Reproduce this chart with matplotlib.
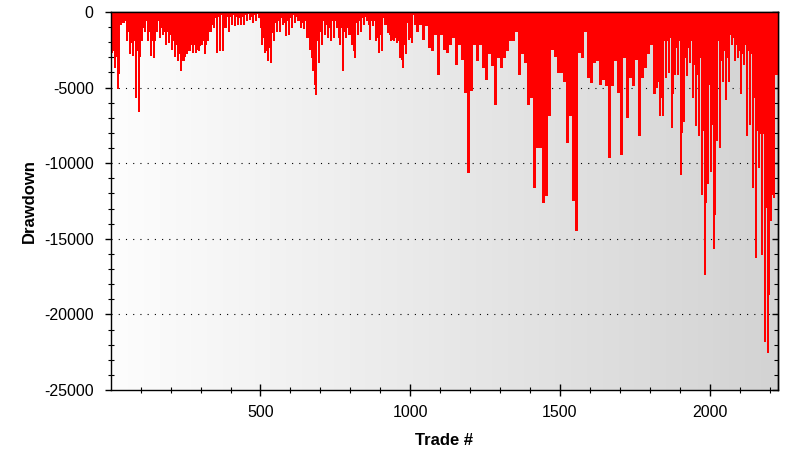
import numpy as np
import matplotlib
matplotlib.use("Agg")
import matplotlib.pyplot as plt
from matplotlib.colors import LinearSegmentedColormap
from matplotlib.ticker import MultipleLocator

plt.rcParams['font.family'] = ['Liberation Sans', 'DejaVu Sans']

# Drawdown per block of 10 trades (block starting at trade 0, 10, 20, ...)
# dd_base: typical (shallow) drawdown level in the block
# dd_spike: deepest drawdown reached in the block
bin_width = 10
dd_base = [
    -2600, -3000, -4100, -700, -600, -1300, -2050, -1950, -2600, -3000,
    -1050, -600, -1300, -1950, -1950, -600, -1050, -1300, -1300, -1500,
    -1950, -2150, -2800, -3250, -2950, -2600, -2150, -2150, -2500, -2250,
    -1950, -2150, -1300, -850, -400, -300, -200, -1050, -300, -300,
    -200, -200, -300, -400, -300, -200, -150, -300, -200, -100,
    -1050, -1700, -2600, -2400, -1400, -750, -600, -400, -750, -600,
    -400, -200, -300, -600, -750, -600, -1700, -3050, -4800, -1950,
    -1300, -600, -850, -1050, -600, -600, -1700, -1050, -1300, -1050,
    -1500, -2600, -750, -600, -400, -300, -850, -600, -600, -1700,
    -1500, -400, -850, -1500, -1850, -1700, -1950, -3150, -2150, -750,
    -1700, -200, -200, -400, -850, -400, -600, -1050, -850, -1050,
    -850, -1950, -1950, -600, -850, -2600, -1050, -2700, -3500, -7550,
    -4350, -1500, -850, -1050, -3150, -4150, -1950, -1300, -5350, -600,
    -1300, -2600, -1850, -1700, -1050, -400, -1700, -600, -1050, -3050,
    -3500, -7000, -6800, -6550, -11000, -10750, -5050, -1850, -1300, -400,
    -1950, -3250, -6000, -5050, -7350, -9900, -1500, -600, -850, -1050,
    -1950, -850, -1700, -600, -2600, -2400, -6350, -1950, -1400, -2400,
    -2150, -1050, -2150, -3900, -1500, -2500, -3050, -2150, -2800, -1600,
    -1050, -3050, -4600, -5700, -1950, -1950, -1700, -5450, -2400, -1950,
    -8000, -3050, -2400, -1950, -3500, -4150, -3050, -7900, -12650, -4800,
    -7450, -13400, -1950, -3250, -2600, -3050, -1500, -1700, -2150, -2600,
    -2800, -2150, -2600, -2800, -5700, -7900, -8100, -8100, -12950, -18700,
    -12100, -4150, -3500,
]
dd_spike = [
    -2700, -3700, -5100, -850, -730, -1950, -2800, -2900, -5700, -6600,
    -1950, -1300, -1950, -2900, -3050, -1300, -1700, -1500, -2150, -2050,
    -2500, -2950, -3250, -3900, -3250, -2800, -2600, -2700, -2700, -2600,
    -2150, -2800, -1950, -1300, -1050, -2700, -2600, -2600, -1050, -1300,
    -850, -950, -850, -850, -850, -600, -500, -750, -600, -400,
    -2150, -2700, -3250, -3400, -1950, -1300, -1300, -850, -1600, -1500,
    -1050, -750, -600, -1050, -1150, -1700, -2500, -3900, -5500, -3350,
    -2150, -1500, -1700, -1950, -1700, -1050, -2150, -3900, -1700, -1500,
    -2150, -3050, -1500, -1300, -850, -600, -1850, -950, -1950, -2700,
    -2600, -850, -1400, -1950, -1950, -2050, -3050, -3700, -2800, -1850,
    -2050, -850, -1300, -850, -1850, -950, -2400, -2600, -1500, -4150,
    -1500, -2500, -2700, -2150, -1700, -3500, -2150, -3150, -5350, -10650,
    -5250, -2150, -3250, -2150, -3700, -4500, -2800, -3600, -6150, -3050,
    -3700, -3050, -2600, -1950, -1950, -1300, -4150, -2800, -3400, -6150,
    -5700, -11650, -9000, -9000, -12650, -12200, -6900, -2500, -2950, -4050,
    -4050, -4600, -8650, -6900, -12500, -14500, -2700, -3050, -1300, -4350,
    -4700, -3400, -3250, -4800, -4500, -4900, -9650, -4900, -3250, -5350,
    -9450, -3050, -7000, -4350, -4900, -3150, -8200, -4350, -3700, -2800,
    -2150, -5450, -5050, -6900, -6900, -4350, -4050, -7650, -4150, -4150,
    -10750, -7250, -4250, -3350, -5700, -7550, -8200, -12100, -17400, -11400,
    -10550, -15700, -8550, -9000, -4600, -5800, -4600, -2150, -3250, -3050,
    -5450, -3500, -8200, -7450, -11650, -16250, -10300, -16050, -21800, -22550,
    -13850, -12300, -4150,
]

x_ticks = [500, 1000, 1500, 2000]
y_ticks = [0, -5000, -10000, -15000, -20000, -25000]

n = min(len(dd_base), len(dd_spike))
base = np.array(dd_base[:n], dtype=float)
spike = np.array(dd_spike[:n], dtype=float)
starts = np.arange(n) * bin_width

fig = plt.figure(figsize=(8.12, 4.62), dpi=100)
ax = fig.add_axes([111/812, 1 - 390/462, (778-111)/812, (390-12)/462])

# background gradient (white -> light grey)
cmap_bg = LinearSegmentedColormap.from_list('bg', ['#fdfdfd', '#d3d3d3'])
grad = np.linspace(0, 1, 256).reshape(1, -1)
ax.imshow(grad, cmap=cmap_bg, aspect='auto', extent=[0, 1, 0, 1],
          transform=ax.transAxes, zorder=0, interpolation='bilinear')

# dotted gridlines
for yv in y_ticks[1:-1]:
    ax.axhline(yv, color='black', lw=0.8, linestyle=(0, (1, 5.5)), zorder=1)

# drawdown: step fill at base level, bars for the deepest points
xs = np.append(starts, starts[-1] + bin_width)
ys = np.append(base, base[-1])
ax.fill_between(xs, 0, ys, step='post', color='#ff0000', lw=0, zorder=2)
ax.bar(starts + bin_width * 0.5, spike, width=bin_width * 0.8,
       color='#ff0000', lw=0, zorder=2)

ax.set_xlim(1, 2228)
ax.set_ylim(-25000, 0)

ax.set_xticks(x_ticks)
ax.set_xticklabels([str(v) for v in x_ticks])
ax.set_yticks(y_ticks)
ax.set_yticklabels([str(v) for v in y_ticks])
ax.xaxis.set_minor_locator(MultipleLocator(100))
ax.yaxis.set_minor_locator(MultipleLocator(1000))

ax.tick_params(axis='x', which='major', direction='inout', length=9,
               width=1, labelsize=11.5, pad=6, top=False)
ax.tick_params(axis='x', which='minor', direction='inout', length=4.5,
               width=0.8, top=False)
ax.tick_params(axis='y', which='major', direction='out', length=4.5,
               width=1, labelsize=11.5, pad=8)
ax.tick_params(axis='y', which='minor', direction='inout', length=4,
               width=0.8)

# right axis and top axis inward ticks
axr = ax.secondary_yaxis('right')
axr.set_yticks(y_ticks)
axr.yaxis.set_minor_locator(MultipleLocator(1000))
axr.tick_params(which='major', direction='in', length=4.5, width=1, labelright=False)
axr.tick_params(which='minor', direction='in', length=3, width=0.8)
axt = ax.secondary_xaxis('top')
axt.set_xticks(x_ticks)
axt.tick_params(which='major', direction='in', length=4.5, width=1, labeltop=False)

for s in ax.spines.values():
    s.set_linewidth(1)
    s.set_color('black')
for s in list(axr.spines.values()) + list(axt.spines.values()):
    s.set_linewidth(1)

ax.set_xlabel('Trade #', fontsize=12, fontweight='bold', labelpad=10)
ax.set_ylabel('Drawdown', fontsize=12, fontweight='bold', labelpad=5)

fig.savefig('out.png', dpi=100)
